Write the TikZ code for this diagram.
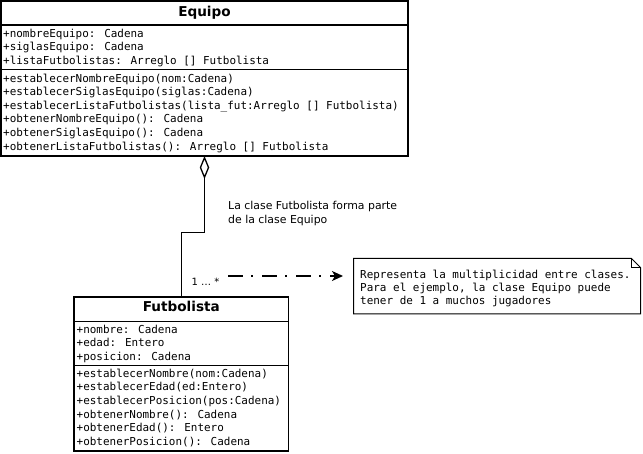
\documentclass[tikz,border=0pt]{standalone}
\usepackage{fontspec}
\setmainfont{DejaVu Sans}
\newfontfamily\umlmono{DejaVu Sans Mono}
\usetikzlibrary{arrows.meta}
\begin{document}
\begin{tikzpicture}[x=1pt,y=-1pt,
  classbox/.style={draw, line width=1.3pt, inner sep=0pt, outer sep=0pt, anchor=north west},
  sepline/.style={line width=1.3pt},
  member/.style={anchor=base west, inner sep=0pt, font=\umlmono\fontsize{10.95}{13}\selectfont},
  ctitle/.style={anchor=base, inner sep=0pt, font=\bfseries\fontsize{13.6}{16}\selectfont},
  plaintext/.style={anchor=base west, inner sep=0pt, font=\fontsize{10.9}{13}\selectfont},
  notebox/.style={inner sep=0pt, outer sep=0pt, anchor=north west},
  aggregation/.style={line width=1.3pt, line join=miter, {Diamond[open,length=23pt,width=9.5pt]}-},
  noteline/.style={line width=1.6pt, dash pattern=on 15pt off 8pt on 2pt off 9pt,
     -{Stealth[length=11pt,width=10pt,inset=3pt]}}
]
\useasboundingbox (0,0) rectangle (643,454);
\fill[white] (0,0) rectangle (643,454);

% ---------- Equipo ----------
\node[classbox, minimum width=407pt, minimum height=155pt] (equipo) at (1,1) {};
\draw[sepline] (1,25) -- (408,25);
\draw[sepline] (1,69.5) -- (408,69.5);
\node[ctitle] (equipoT) at (204.5,17) {Equipo};
\foreach \t [count=\i] in {{+nombreEquipo: Cadena},{+siglasEquipo: Cadena},{+listaFutbolistas: Arreglo [] Futbolista}}
  \node[member] (ea\i) at (3,{37.3+13.4*(\i-1)}) {\t};
\foreach \t [count=\i] in {{+establecerNombreEquipo(nom:Cadena)},{+establecerSiglasEquipo(siglas:Cadena)},{+establecerListaFutbolistas(lista\_fut:Arreglo [] Futbolista)},{+obtenerNombreEquipo(): Cadena},{+obtenerSiglasEquipo(): Cadena},{+obtenerListaFutbolistas(): Arreglo [] Futbolista}}
  \node[member] (em\i) at (3,{82.3+13.55*(\i-1)}) {\t};

% ---------- Futbolista ----------
\node[classbox, minimum width=214.5pt, minimum height=154pt] (futbolista) at (74,297) {};
\draw[sepline] (74,321.5) -- (288.5,321.5);
\draw[sepline] (74,365.5) -- (288.5,365.5);
\node[ctitle] (futT) at (181.3,311.7) {Futbolista};
\foreach \t [count=\i] in {{+nombre: Cadena},{+edad: Entero},{+posicion: Cadena}}
  \node[member] (fa\i) at (76.5,{333.3+13.4*(\i-1)}) {\t};
\foreach \t [count=\i] in {{+establecerNombre(nom:Cadena)},{+establecerEdad(ed:Entero)},{+establecerPosicion(pos:Cadena)},{+obtenerNombre(): Cadena},{+obtenerEdad(): Entero},{+obtenerPosicion(): Cadena}}
  \node[member] (fm\i) at (76.5,{377.3+13.65*(\i-1)}) {\t};

% ---------- aggregation ----------
\coordinate (bend) at (181.25,232.5);
\draw[aggregation] (equipo.south) |- (bend) -- (futbolista.north);
\node[plaintext] (lbl1) at (228,210) {La clase Futbolista forma parte};
\node[plaintext] (lbl2) at (228,223.3) {de la clase Equipo};

% ---------- multiplicity ----------
\node[plaintext, font=\fontsize{10}{12}\selectfont] (mult) at (191.5,286) {1 … *};
\coordinate (dstart) at (228,276);
\coordinate (dend) at (343,276);
\draw[noteline] (dstart) -- (dend);

% ---------- note ----------
\node[notebox, minimum width=287pt, minimum height=55.5pt] (note) at (353.5,258.5) {};
\draw[line width=1pt] (note.north west) -- ([xshift=-9pt]note.north east)
   -- ([yshift=-9pt]note.north east) -- (note.south east) -- (note.south west) -- cycle;
\draw[line width=0.8pt] ([xshift=-9pt]note.north east) |- ([yshift=-9pt]note.north east);
\node[member] (n1) at (360,278.3) {Representa la multiplicidad entre clases.};
\node[member] (n2) at (360,291.3) {Para el ejemplo, la clase Equipo puede};
\node[member] (n3) at (360,304.3) {tener de 1 a muchos jugadores};
\end{tikzpicture}
\end{document}
